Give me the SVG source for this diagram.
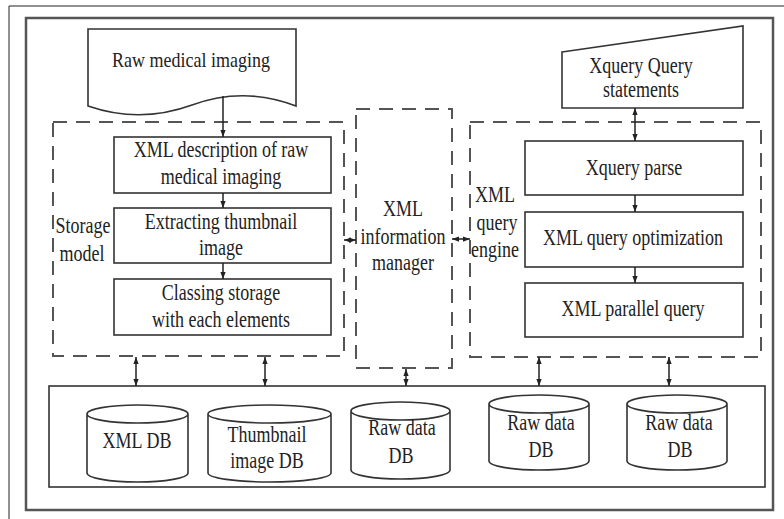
<svg xmlns="http://www.w3.org/2000/svg" width="784" height="519" viewBox="0 0 784 519">
<defs>
<style>
.t{font-family:"Liberation Serif","Times New Roman",serif;font-size:18px;fill:#222;text-anchor:middle}
.box{fill:#fff;stroke:#333;stroke-width:1.6}
.dash{fill:none;stroke:#555;stroke-width:2;stroke-dasharray:14 9}
.con{fill:none;stroke:#222;stroke-width:1.5}
</style>
<marker id="ah" viewBox="0 0 8 6" refX="8" refY="3" markerWidth="7" markerHeight="6" markerUnits="userSpaceOnUse" orient="auto-start-reverse">
<path d="M0,0 L8,3 L0,6 Z" fill="#222"/>
</marker>
</defs>
<rect width="784" height="519" fill="#fff"/>
<g id="frame">
<path d="M9,519 V6 H784" fill="none" stroke="#222" stroke-width="1"/>
<rect x="26" y="18" width="747" height="492" fill="none" stroke="#555" stroke-width="2.5"/>
</g>
<g id="raw-imaging">
<path class="box" d="M88,29 H296 V106 Q244,86 192,105 T88,106 Z"/>
<text class="t" transform="translate(191,67) scale(1,1.15)">Raw medical imaging</text>
</g>
<g id="storage-model">
<rect class="dash" x="53" y="122" width="291" height="234"/>
<text class="t" transform="translate(83,233) scale(1,1.25)">Storage</text>
<text class="t" transform="translate(82,261) scale(1,1.25)">model</text>
</g>
<g id="xml-description">
<rect class="box" x="114" y="137" width="217" height="56"/>
<text class="t" transform="translate(221,157) scale(1,1.25)">XML description of raw</text>
<text class="t" transform="translate(221,184) scale(1,1.25)">medical imaging</text>
</g>
<g id="extracting">
<rect class="box" x="114" y="208" width="217" height="55"/>
<text class="t" transform="translate(221,229) scale(1,1.25)">Extracting thumbnail</text>
<text class="t" transform="translate(221,255) scale(1,1.25)">image</text>
</g>
<g id="classing">
<rect class="box" x="114" y="279" width="217" height="56"/>
<text class="t" transform="translate(221,300) scale(1,1.25)">Classing storage</text>
<text class="t" transform="translate(221,327) scale(1,1.25)">with each elements</text>
</g>
<g id="info-manager">
<rect class="dash" x="356" y="109" width="96" height="259"/>
<text class="t" transform="translate(403,216) scale(1,1.25)">XML</text>
<text class="t" transform="translate(403,244) scale(1,1.25)">information</text>
<text class="t" transform="translate(403,270) scale(1,1.25)">manager</text>
</g>
<g id="query-engine">
<rect class="dash" x="470" y="122" width="291" height="235"/>
<text class="t" transform="translate(495,202) scale(1,1.25)">XML</text>
<text class="t" transform="translate(497,230) scale(1,1.25)">query</text>
<text class="t" transform="translate(495,257) scale(1,1.25)">engine</text>
</g>
<g id="xquery-statements">
<path class="box" d="M562,52 L743,26 L743,108 L562,108 Z"/>
<text class="t" transform="translate(641,73) scale(1,1.25)">Xquery Query</text>
<text class="t" transform="translate(641,97) scale(1,1.25)">statements</text>
</g>
<g id="xquery-parse">
<rect class="box" x="525" y="141" width="218" height="54"/>
<text class="t" transform="translate(634,175) scale(1,1.25)">Xquery parse</text>
</g>
<g id="query-optimization">
<rect class="box" x="525" y="212" width="218" height="55"/>
<text class="t" transform="translate(633,245) scale(1,1.25)">XML query optimization</text>
</g>
<g id="parallel-query">
<rect class="box" x="525" y="283" width="218" height="54"/>
<text class="t" transform="translate(633,316) scale(1,1.25)">XML parallel query</text>
</g>
<g id="db-layer">
<rect class="box" x="49" y="386" width="716" height="101"/>
</g>
<g id="xml-db">
<path class="box" d="M87,414 V473 A50.5,9 0 0 0 188,473 V414 A50.5,9 0 0 0 87,414 Z M87,414 A50.5,9 0 0 0 188,414"/>
<text class="t" transform="translate(137,448) scale(1,1.25)">XML DB</text>
</g>
<g id="thumbnail-db">
<path class="box" d="M208,414 V473 A61.5,9 0 0 0 331,473 V414 A61.5,9 0 0 0 208,414 Z M208,414 A61.5,9 0 0 0 331,414"/>
<text class="t" transform="translate(267,442) scale(1,1.25)">Thumbnail</text>
<text class="t" transform="translate(267,468) scale(1,1.25)">image DB</text>
</g>
<g id="raw-db-1">
<path class="box" d="M351,411 V470 A49.5,9 0 0 0 450,470 V411 A49.5,9 0 0 0 351,411 Z M351,411 A49.5,9 0 0 0 450,411"/>
<text class="t" transform="translate(402,435) scale(1,1.25)">Raw data</text>
<text class="t" transform="translate(401,463) scale(1,1.25)">DB</text>
</g>
<g id="raw-db-2">
<path class="box" d="M489,404 V461 A50,9 0 0 0 589,461 V404 A50,9 0 0 0 489,404 Z M489,404 A50,9 0 0 0 589,404"/>
<text class="t" transform="translate(541,430) scale(1,1.25)">Raw data</text>
<text class="t" transform="translate(541,457) scale(1,1.25)">DB</text>
</g>
<g id="raw-db-3">
<path class="box" d="M627,404 V461 A50,9 0 0 0 727,461 V404 A50,9 0 0 0 627,404 Z M627,404 A50,9 0 0 0 727,404"/>
<text class="t" transform="translate(679,430) scale(1,1.25)">Raw data</text>
<text class="t" transform="translate(680,457) scale(1,1.25)">DB</text>
</g>
<g id="connectors">
<line class="con" x1="223" y1="96" x2="223" y2="137" marker-end="url(#ah)"/>
<line class="con" x1="223" y1="193" x2="223" y2="208" marker-end="url(#ah)"/>
<line class="con" x1="223" y1="263" x2="223" y2="279" marker-end="url(#ah)"/>
<line class="con" x1="635" y1="108" x2="635" y2="141" marker-start="url(#ah)" marker-end="url(#ah)"/>
<line class="con" x1="635" y1="195" x2="635" y2="212" marker-end="url(#ah)"/>
<line class="con" x1="635" y1="267" x2="635" y2="283" marker-end="url(#ah)"/>
<line class="con" x1="344" y1="240" x2="356" y2="240" marker-start="url(#ah)" marker-end="url(#ah)"/>
<line class="con" x1="452" y1="239" x2="470" y2="239" marker-start="url(#ah)" marker-end="url(#ah)"/>
<line class="con" x1="136" y1="357" x2="136" y2="386" marker-start="url(#ah)" marker-end="url(#ah)"/>
<line class="con" x1="265" y1="357" x2="265" y2="386" marker-start="url(#ah)" marker-end="url(#ah)"/>
<line class="con" x1="406" y1="369" x2="406" y2="386" marker-start="url(#ah)" marker-end="url(#ah)"/>
<line class="con" x1="539" y1="357" x2="539" y2="386" marker-start="url(#ah)" marker-end="url(#ah)"/>
<line class="con" x1="669" y1="357" x2="669" y2="386" marker-start="url(#ah)" marker-end="url(#ah)"/>
</g>
</svg>
